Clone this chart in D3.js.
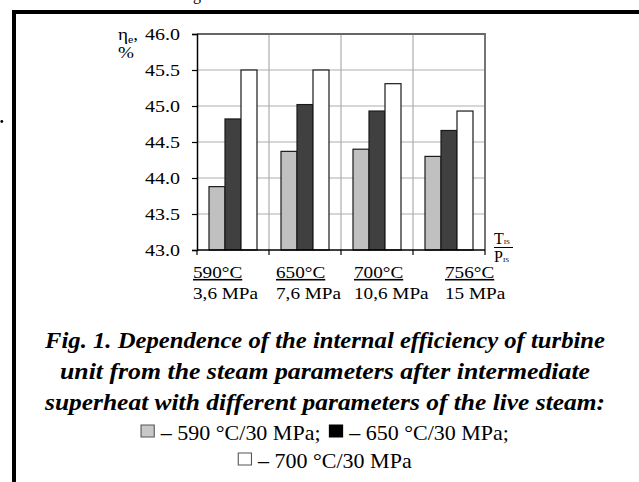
<!DOCTYPE html>
<html><head><meta charset="utf-8">
<script src="https://cdn.jsdelivr.net/npm/d3@7"></script>
<style>body{margin:0;background:#fff}svg{display:block}</style>
</head><body>
<svg id="c" width="639" height="482"></svg>
<script>
// ---- data ----
const categories = ["590°C", "650°C", "700°C", "756°C"];
const categoryPressures = ["3,6 MPa", "7,6 MPa", "10,6 MPa", "15 MPa"];
const seriesNames = ["590 °C/30 MPa", "650 °C/30 MPa", "700 °C/30 MPa"];
const series590 = [43.88, 44.37, 44.40, 44.30];
const series650 = [44.82, 45.02, 44.93, 44.66];
const series700 = [45.50, 45.50, 45.31, 44.93];
const yTicks = [43.0, 43.5, 44.0, 44.5, 45.0, 45.5, 46.0];
const captionLines = [
  "Fig. 1. Dependence of the internal efficiency of turbine",
  "unit from the steam parameters after intermediate",
  "superheat with different parameters of the live steam:"
];

// ---- layout ----
const W = 639, H = 482;
const L = 197, R = 485, T = 34, B = 250;
const serif = "'Liberation Serif','Times New Roman',serif";
const fills = ["#c0c0c0", "#404040", "#ffffff"];
const legendFills = ["#c8c8c8", "#000000", "#ffffff"];
const labelShift = [-4, 7, 13, 32];
const stretch = 1.2;

const svg = d3.select("#c");
svg.append("rect").attr("width", W).attr("height", H).attr("fill", "#fff");

// frame
svg.append("path").attr("d", `M14,${H} V12 H${W}`).attr("fill", "none")
  .attr("stroke", "#000").attr("stroke-width", 4);
svg.append("circle").attr("cx", 1.8).attr("cy", 121.5).attr("r", 1.4).attr("fill", "#000");
svg.append("text").attr("x", 193).attr("y", 0).attr("font-family", serif)
  .attr("font-size", 16).text("g");

const x0 = d3.scaleBand().domain(categories).range([L, R])
  .paddingInner(1/3).paddingOuter(1/6);
const x1 = d3.scaleBand().domain(seriesNames).range([0, x0.bandwidth()]);
const y = d3.scaleLinear().domain([43, 46]).range([B, T]);
const boundaries = d3.range(categories.length + 1).map(i => L + i * x0.step());

// grid
const g = svg.append("g");
g.selectAll("line.h").data(yTicks.slice(1, -1)).join("line")
  .attr("x1", L).attr("x2", R).attr("y1", d => y(d)).attr("y2", d => y(d))
  .attr("stroke", "#adadad").attr("stroke-width", 1.2);
g.selectAll("line.v").data(boundaries.slice(1, -1)).join("line")
  .attr("x1", d => d).attr("x2", d => d).attr("y1", T).attr("y2", B)
  .attr("stroke", "#adadad").attr("stroke-width", 1.2);
g.append("path").attr("d", `M${L},${y(46)} H${R} V${B}`).attr("fill", "none")
  .attr("stroke", "#666").attr("stroke-width", 1.8);

// bars
const data = categories.map((c, i) => ({c, vals: [series590[i], series650[i], series700[i]]}));
svg.append("g").selectAll("g").data(data).join("g")
  .attr("transform", d => `translate(${x0(d.c)},0)`)
  .selectAll("rect").data(d => d.vals.map((v, k) => ({v, k})))
  .join("rect")
  .attr("x", d => x1(seriesNames[d.k]))
  .attr("width", x1.bandwidth())
  .attr("y", d => y(d.v))
  .attr("height", d => y(43) - y(d.v))
  .attr("fill", d => fills[d.k])
  .attr("stroke", "#1a1a1a").attr("stroke-width", 1.2);

// y axis
const ya = svg.append("g").attr("transform", `translate(${L},0)`)
  .call(d3.axisLeft(y).tickValues(yTicks).tickFormat(d3.format(".1f")).tickSize(5).tickPadding(12));
ya.attr("font-family", serif);
ya.select(".domain").attr("stroke", "#000").attr("stroke-width", 1.5);
ya.selectAll(".tick line").attr("stroke", "#000").attr("stroke-width", 1.2);
ya.selectAll(".tick text").attr("font-family", serif).attr("font-size", 16)
  .attr("fill", "#000").attr("textLength", 35).attr("lengthAdjust", "spacingAndGlyphs");

// x axis
const xa = svg.append("g");
xa.append("line").attr("x1", L).attr("x2", R).attr("y1", B).attr("y2", B)
  .attr("stroke", "#000").attr("stroke-width", 1.5);
xa.selectAll("line.t").data(boundaries).join("line")
  .attr("x1", d => d).attr("x2", d => d).attr("y1", B).attr("y2", B + 5)
  .attr("stroke", "#000").attr("stroke-width", 1.2);

const cl = svg.append("g").attr("font-family", serif).attr("font-size", 16).attr("fill", "#000");
categories.forEach((c, i) => {
  const bx = boundaries[i] + labelShift[i];
  cl.append("g").attr("transform", `translate(${bx},278) scale(${stretch},1)`)
    .append("text").text(c).attr("text-decoration", "underline");
  cl.append("g").attr("transform", `translate(${bx},299) scale(${stretch},1)`)
    .append("text").text(categoryPressures[i]);
});

// axis titles
const yg = svg.append("g").attr("transform", `translate(118,0) scale(${stretch},1)`)
  .attr("font-family", serif).attr("font-size", 16);
const yt = yg.append("text").attr("y", 40);
yt.append("tspan").text("η");
yt.append("tspan").attr("font-size", 10).attr("dy", 3).text("e");
yt.append("tspan").attr("dy", -3).text(",");
yg.append("text").attr("y", 58).text("%");

const xt = svg.append("g").attr("font-family", serif).attr("font-size", 16);
const t1 = xt.append("text").attr("x", 494).attr("y", 244);
t1.append("tspan").text("T"); t1.append("tspan").attr("font-size", 7).text("IS");
xt.append("line").attr("x1", 494).attr("x2", 513).attr("y1", 247.5).attr("y2", 247.5)
  .attr("stroke", "#000").attr("stroke-width", 1);
const t2 = xt.append("text").attr("x", 494).attr("y", 262);
t2.append("tspan").text("P"); t2.append("tspan").attr("font-size", 7).text("IS");

// caption
const capLen = [560, 530, 560];
svg.append("g").selectAll("text").data(captionLines).join("text")
  .attr("x", 325).attr("y", (d, i) => 348 + i * 31)
  .attr("text-anchor", "middle").attr("font-family", serif)
  .attr("font-size", 23).attr("font-weight", "bold").attr("font-style", "italic")
  .attr("textLength", (d, i) => capLen[i]).attr("lengthAdjust", "spacingAndGlyphs")
  .text(d => d);

// legend
const legendRows = [[0, 1], [2]];
legendRows.forEach((row, r) => {
  const gy = 440 + r * 28;
  const lg = svg.append("g");
  let cx = 0;
  row.forEach(k => {
    const it = lg.append("g");
    it.append("rect").attr("x", 0).attr("y", -15).attr("width", 12).attr("height", 12)
      .attr("fill", legendFills[k]).attr("stroke", k === 1 ? "#000" : "#555").attr("stroke-width", 1);
    const t = it.append("text").attr("x", 18).attr("y", 0).attr("font-family", serif)
      .attr("font-size", 20).text("– " + seriesNames[k] + (r === 0 ? ";" : ""));
    const w = 18 + t.node().getComputedTextLength();
    it.attr("transform", `translate(${cx},${gy})`);
    cx += w + 8;
  });
  const total = (cx - 8) * 1.1;
  lg.attr("transform", `translate(${325 - total / 2},0) scale(1.1,1)`);
});
</script>
</body></html>
